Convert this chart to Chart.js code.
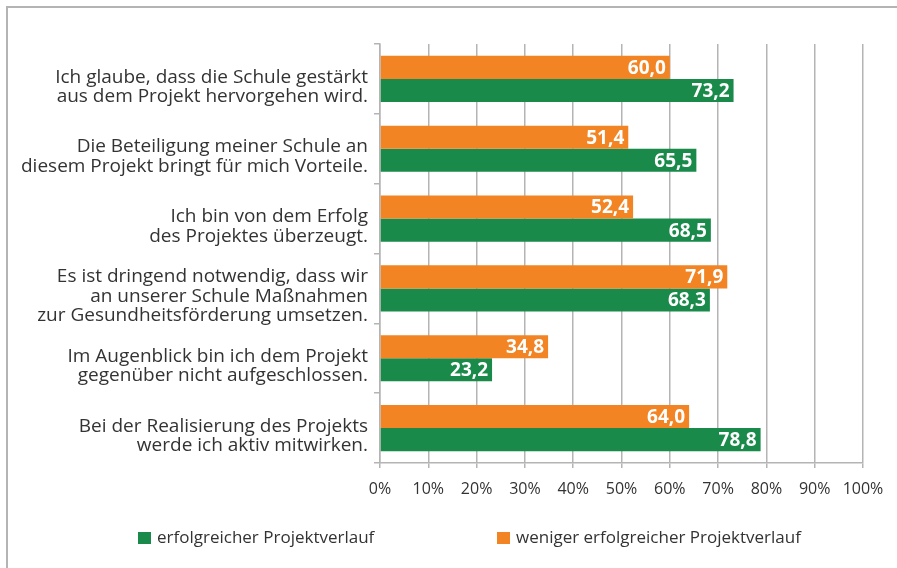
<!DOCTYPE html>
<html>
<head>
<meta charset="utf-8">
<script src="https://cdn.jsdelivr.net/npm/chart.js@4.4.1/dist/chart.umd.min.js"></script>
<style>
  html, body { margin: 0; padding: 0; background: #fff; }
  #wrap { position: relative; width: 897px; height: 568px; overflow: hidden; font-family: "Open Sans", sans-serif; }
  #frame { position: absolute; left: 6px; top: 6px; width: 1000px; height: 1000px; border-top: 2px solid #b4b4b4; border-left: 2px solid #b4b4b4; }
  #chart { position: absolute; left: 0; top: 0; }
  .leg { position: absolute; top: 527px; font-size: 17px; color: #333; white-space: nowrap; line-height: 20px; }
  .leg i { display: inline-block; width: 13px; height: 12px; margin-right: 6px; vertical-align: -1px; }
</style>
</head>
<body>
<div id="wrap">
  <div id="frame"></div>
  <canvas id="chart" width="897" height="568"></canvas>
  <div id="legend"></div>
</div>
<script>
// =======================================
// DATA
// =======================================
const categories = [
  ["Ich glaube, dass die Schule gestärkt", "aus dem Projekt hervorgehen wird."],
  ["Die Beteiligung meiner Schule an", "diesem Projekt bringt für mich Vorteile."],
  ["Ich bin von dem Erfolg", "des Projektes überzeugt."],
  ["Es ist dringend notwendig, dass wir", "an unserer Schule Maßnahmen", "zur Gesundheitsförderung umsetzen."],
  ["Im Augenblick bin ich dem Projekt", "gegenüber nicht aufgeschlossen."],
  ["Bei der Realisierung des Projekts", "werde ich aktiv mitwirken."],
];
const lessSuccessful = [60.0, 51.4, 52.4, 71.9, 34.8, 64.0];
const successful = [73.2, 65.5, 68.5, 68.3, 23.2, 78.8];
const xTicks = [0, 10, 20, 30, 40, 50, 60, 70, 80, 90, 100];

const ORANGE = "#f28424";
const GREEN = "#1a8a4a";
const TEXT = "#333333";
const GRID = "#b4b4b4";

// =======================================
// VALUE LABELS INSIDE BARS
// =======================================
const valueLabels = {
  id: "valueLabels",
  afterDatasetsDraw(chart) {
    const ctx = chart.ctx;
    ctx.save();
    ctx.font = "bold 19px 'Open Sans', sans-serif";
    ctx.fillStyle = "#fff";
    ctx.textAlign = "right";
    ctx.textBaseline = "middle";
    chart.data.datasets.forEach((ds, i) => {
      chart.getDatasetMeta(i).data.forEach((bar, j) => {
        const txt = ds.data[j].toFixed(1).replace(".", ",");
        ctx.fillText(txt, bar.x - 4, bar.y + 1);
      });
    });
    ctx.restore();
  },
};

// =======================================
// CHART
// =======================================
const chart = new Chart(document.getElementById("chart"), {
  type: "bar",
  data: {
    labels: categories,
    datasets: [
      { label: "weniger erfolgreicher Projektverlauf", data: lessSuccessful, backgroundColor: ORANGE },
      { label: "erfolgreicher Projektverlauf", data: successful, backgroundColor: GREEN },
    ],
  },
  options: {
    indexAxis: "y",
    responsive: false,
    animation: false,
    layout: { padding: { top: 44, right: 34, left: 0, bottom: 0 } },
    datasets: { bar: { categoryPercentage: 0.66, barPercentage: 1.0 } },
    plugins: { legend: { display: false }, tooltip: { enabled: false } },
    scales: {
      x: {
        min: 0,
        max: 100,
        afterBuildTicks: (scale) => { scale.ticks = xTicks.map((v) => ({ value: v })); },
        afterFit: (scale) => { scale.height = 105; },
        grid: { color: GRID, lineWidth: 1.5, tickLength: 5 },
        border: { color: GRID, width: 1.5 },
        ticks: {
          color: TEXT,
          padding: 12,
          font: { family: "'Open Sans', sans-serif", size: 16 },
          callback: (v) => v + "%",
        },
      },
      y: {
        afterFit: (scale) => { scale.width = 380; },
        grid: { drawOnChartArea: false, color: GRID, lineWidth: 1.5, tickLength: 6 },
        border: { color: GRID, width: 1.5 },
        ticks: {
          color: TEXT,
          padding: 6,
          labelOffset: 8,
          font: { family: "'Open Sans', sans-serif", size: 19, lineHeight: 1.02 },
        },
      },
    },
  },
  plugins: [valueLabels],
});

// =======================================
// LEGEND (green first, like the original)
// =======================================
const legendPos = [138, 497];
const legendEl = document.getElementById("legend");
[1, 0].forEach((dsIndex, k) => {
  const ds = chart.data.datasets[dsIndex];
  const item = document.createElement("div");
  item.className = "leg";
  item.style.left = legendPos[k] + "px";
  item.innerHTML = `<i style="background:${ds.backgroundColor}"></i>${ds.label}`;
  legendEl.appendChild(item);
});
</script>
</body>
</html>
